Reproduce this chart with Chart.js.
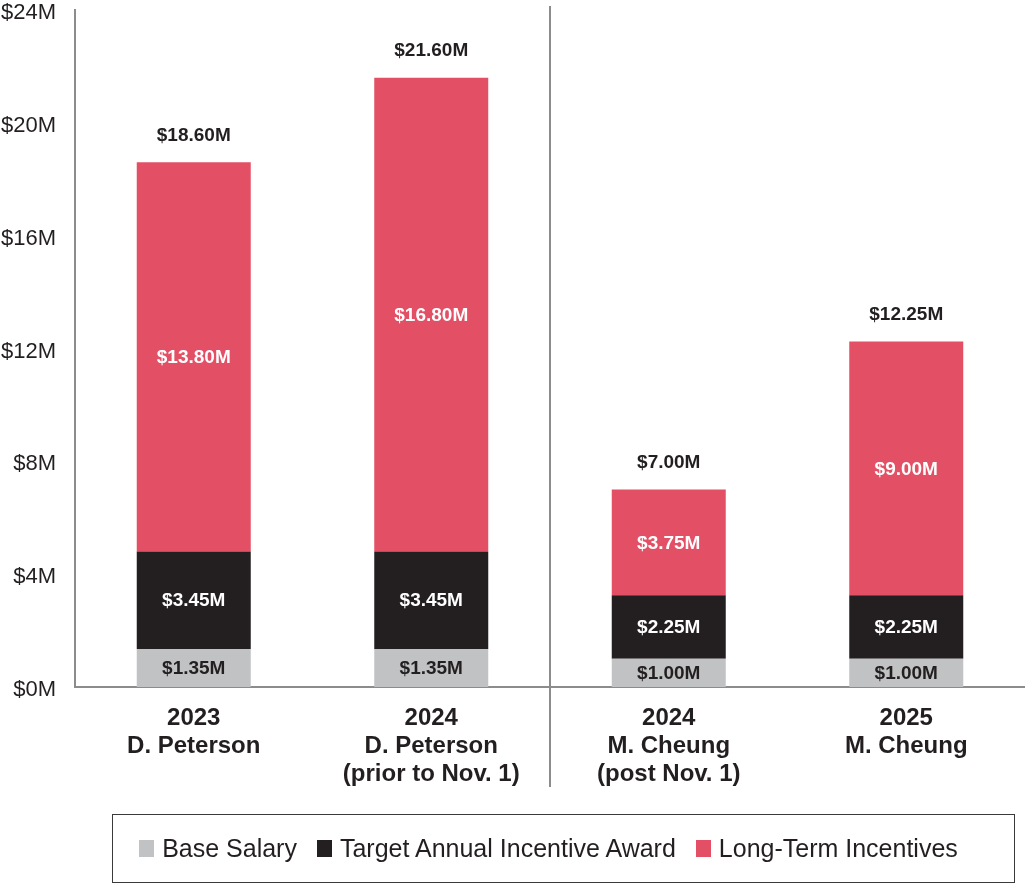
<!DOCTYPE html>
<html>
<head>
<meta charset="utf-8">
<script src="https://cdn.jsdelivr.net/npm/chart.js"></script>
<style>
  html, body { margin: 0; padding: 0; background: #fff; }
  #wrap { position: relative; width: 1025px; height: 885px; }
  #legend {
    position: absolute; left: 112px; top: 814px; width: 871px; height: 67px; padding-right: 30px;
    border: 1.5px solid #3a3a3a; display: flex; align-items: center; justify-content: center;
    font-family: "Liberation Sans", Arial, sans-serif; font-size: 25px; color: #231f20;
  }
  #legend span.item { display: flex; align-items: center; margin: 0 10px; }
  #legend span.box { display: inline-block; width: 15px; height: 17px; margin-right: 8px; }
</style>
</head>
<body>
<div id="wrap">
  <canvas id="chart" width="1025" height="885"></canvas>
  <div id="legend"></div>
</div>
<script>
// chart data
const categories = [
  ['2023', 'D. Peterson'],
  ['2024', 'D. Peterson', '(prior to Nov. 1)'],
  ['2024', 'M. Cheung', '(post Nov. 1)'],
  ['2025', 'M. Cheung']
];
const baseSalary = [1.35, 1.35, 1.00, 1.00];
const annualIncentive = [3.45, 3.45, 2.25, 2.25];
const longTerm = [13.80, 16.80, 3.75, 9.00];
const yTicks = [0, 4, 8, 12, 16, 20, 24];

const FONT = '"Liberation Sans", Arial, sans-serif';
const DARK = '#231f20';
const AXIS = '#8c8c8c';

const seriesList = [
  { label: 'Base Salary', data: baseSalary, color: '#c1c2c4', text: DARK },
  { label: 'Target Annual Incentive Award', data: annualIncentive, color: '#231f20', text: '#ffffff' },
  { label: 'Long-Term Incentives', data: longTerm, color: '#e34f64', text: '#ffffff' }
];

const fmt = v => '$' + v.toFixed(2) + 'M';

// segment values, totals and the divider between the two executives
const labelPlugin = {
  id: 'barLabels',
  afterDatasetsDraw(chart) {
    const ctx = chart.ctx;
    const yScale = chart.scales.y;
    const xScale = chart.scales.x;
    ctx.save();
    ctx.textAlign = 'center';
    ctx.textBaseline = 'middle';
    ctx.font = 'bold 19px ' + FONT;
    chart.data.datasets.forEach((ds, di) => {
      const meta = chart.getDatasetMeta(di);
      meta.data.forEach((bar, i) => {
        const mid = (bar.y + bar.base) / 2;
        ctx.fillStyle = seriesList[di].text;
        ctx.fillText(fmt(ds.data[i]), bar.x, mid + 1);
      });
    });
    categories.forEach((c, i) => {
      const total = baseSalary[i] + annualIncentive[i] + longTerm[i];
      const x = xScale.getPixelForValue(i);
      ctx.fillStyle = DARK;
      ctx.fillText(fmt(total), x, yScale.getPixelForValue(total) - 27);
    });
    // divider between D. Peterson and M. Cheung
    const xd = (xScale.getPixelForValue(1) + xScale.getPixelForValue(2)) / 2;
    ctx.strokeStyle = AXIS;
    ctx.lineWidth = 2;
    ctx.beginPath();
    ctx.moveTo(xd, 6);
    ctx.lineTo(xd, 787);
    ctx.stroke();
    ctx.restore();
  }
};

new Chart(document.getElementById('chart'), {
  type: 'bar',
  data: {
    labels: categories,
    datasets: seriesList.map(s => ({
      label: s.label,
      data: s.data,
      backgroundColor: s.color,
      borderWidth: 0,
      barPercentage: 0.48,
      categoryPercentage: 1.0
    }))
  },
  options: {
    responsive: false,
    animation: false,
    devicePixelRatio: 1,
    layout: { autoPadding: false, padding: { top: 10, left: 0, right: 0, bottom: 0 } },
    plugins: { legend: { display: false }, tooltip: { enabled: false } },
    scales: {
      x: {
        stacked: true,
        grid: { display: false, drawTicks: false },
        border: { display: true, color: AXIS, width: 2 },
        ticks: {
          color: DARK, padding: 17, maxRotation: 0, autoSkip: false,
          font: { family: FONT, size: 24, weight: 'bold', lineHeight: 1.18 }
        },
        afterFit(scale) { scale.height = 198; }
      },
      y: {
        stacked: true,
        min: 0, max: 24,
        afterBuildTicks(scale) { scale.ticks = yTicks.map(v => ({ value: v })); },
        grid: { display: false, drawTicks: false },
        border: { display: true, color: AXIS, width: 2 },
        ticks: {
          color: DARK, padding: 19, labelOffset: 3,
          font: { family: FONT, size: 22 },
          callback: v => '$' + v + 'M'
        },
        afterFit(scale) {
          scale.width = 75;
          scale.paddingTop = 0;
          scale.paddingBottom = 0;
        }
      }
    }
  },
  plugins: [labelPlugin]
});

// legend box
const legend = document.getElementById('legend');
seriesList.forEach(s => {
  const item = document.createElement('span');
  item.className = 'item';
  item.innerHTML = '<span class="box" style="background:' + s.color + '"></span>' + s.label;
  legend.appendChild(item);
});
</script>
</body>
</html>
